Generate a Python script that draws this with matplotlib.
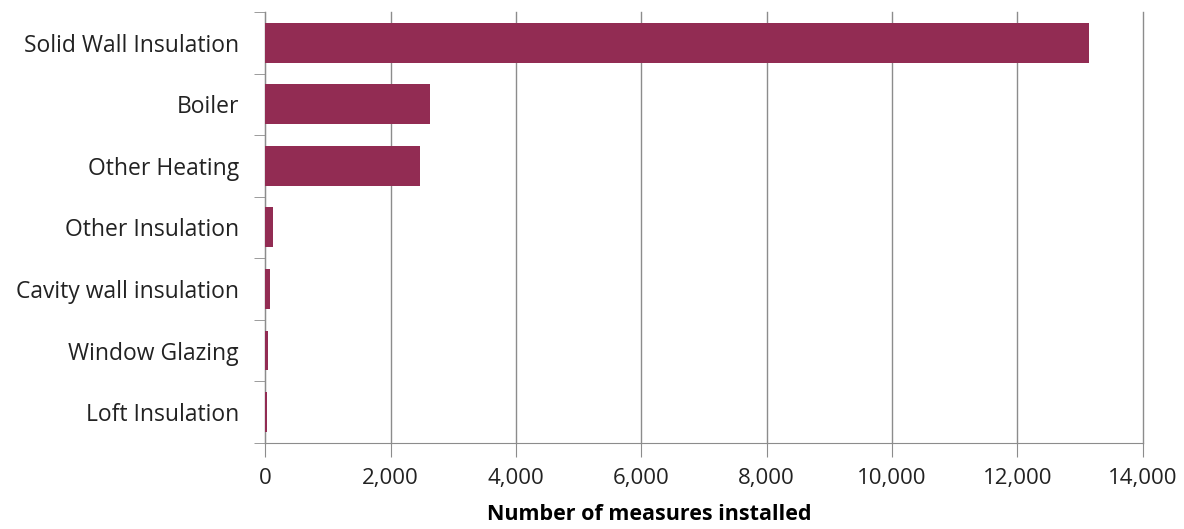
import matplotlib.pyplot as plt
import numpy as np

# Measures, top to bottom as drawn
categories = ['Solid Wall Insulation', 'Boiler', 'Other Heating', 'Other Insulation',
              'Cavity wall insulation', 'Window Glazing', 'Loft Insulation']
measures = [13150, 2630, 2470, 130, 70, 50, 30]
xticks = [0, 2000, 4000, 6000, 8000, 10000, 12000, 14000]

plt.rcParams['font.family'] = ['Open Sans', 'DejaVu Sans']

fig = plt.figure(figsize=(11.84, 5.29), dpi=100)
ax = fig.add_axes([0.224, 0.163, 0.741, 0.814])

ypos = np.arange(len(categories))
ax.barh(ypos, measures, height=0.65, color='#922C53', zorder=3)

ax.set_xlim(0, 14000)
ax.set_ylim(len(categories) - 0.5, -0.5)
ax.set_xticks(xticks)
ax.set_xticklabels(['{:,}'.format(v) for v in xticks])
ax.grid(axis='x', color='#8c8c8c', linewidth=1, zorder=0)
for gl in ax.get_xgridlines():
    gl.set_clip_on(False)

# category labels between boundary ticks
ax.set_yticks(ypos)
ax.set_yticklabels(categories)
ax.set_yticks(np.arange(len(categories) + 1) - 0.5, minor=True)
ax.tick_params(axis='y', which='major', length=0, pad=19, labelsize=16.5, labelcolor='#222222')
ax.tick_params(axis='y', which='minor', length=8, color='#8c8c8c', direction='out')
ax.tick_params(axis='x', length=10, color='#8c8c8c', pad=8, labelsize=16, labelcolor='#222222')

for side in ['top', 'right']:
    ax.spines[side].set_visible(False)
for side in ['left', 'bottom']:
    ax.spines[side].set_color('#8c8c8c')

ax.set_xlabel('Number of measures installed', fontsize=15.5, fontweight='bold')
ax.xaxis.set_label_coords((649 - 265) / (1143 - 265), -0.143)

fig.savefig('out.png', dpi=100)
